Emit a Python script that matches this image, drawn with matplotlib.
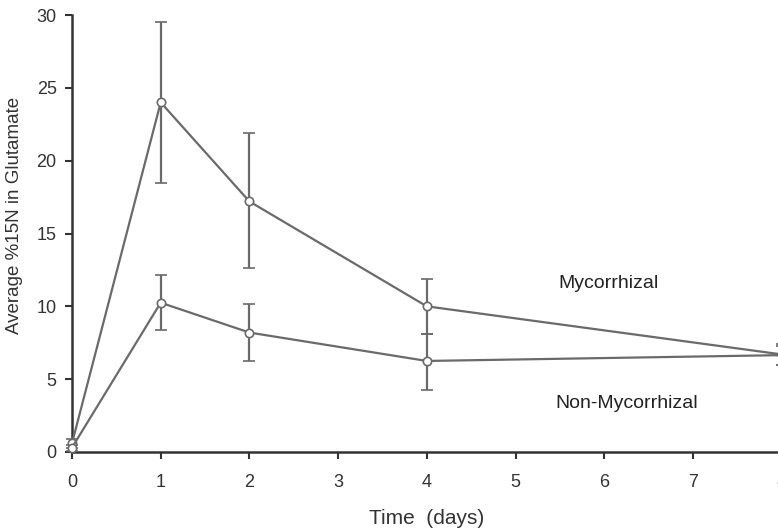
import numpy as np
import matplotlib
matplotlib.use('Agg')
import matplotlib.pyplot as plt

plt.rcParams['font.family'] = ['Liberation Sans', 'DejaVu Sans']

days = [0, 1, 2, 4, 8]
myc = [0.6, 24.0, 17.2, 10.0, 6.7]
myc_lo = [0.3, 18.5, 12.6, 8.1, 6.0]
myc_hi = [0.9, 29.5, 21.9, 11.9, 7.4]
nonmyc = [0.3, 10.25, 8.2, 6.25, 6.65]
nonmyc_lo = [0.1, 8.4, 6.25, 4.25, 6.0]
nonmyc_hi = [0.5, 12.15, 10.15, 8.1, 7.3]

W, H = 778., 532.
fig = plt.figure(figsize=(7.78, 5.32), dpi=100)
ax = fig.add_axes([72/W, 80/H, (8.1*88.7)/W, 437/H])

gray = '#6a6a6a'
for y, lo, hi in [(myc, myc_lo, myc_hi), (nonmyc, nonmyc_lo, nonmyc_hi)]:
    y = np.asarray(y)
    yerr = [y - np.asarray(lo), np.asarray(hi) - y]
    ax.errorbar(days, y, yerr=yerr, color=gray, lw=1.6, elinewidth=1.6,
                capsize=4, capthick=1.4, marker='o', ms=6,
                mfc='white', mec=gray, mew=1.2, clip_on=False, zorder=3)

ax.text(6.05, 11.6, 'Mycorrhizal', ha='center', va='center', fontsize=14, color='#222222')
ax.text(6.25, 3.3, 'Non-Mycorrhizal', ha='center', va='center', fontsize=14, color='#222222')

ax.set_xlim(0, 8.1)
ax.set_ylim(0, 30)
ax.set_xticks(range(0, 9))
ax.set_yticks(range(0, 31, 5))
ax.spines['top'].set_visible(False)
ax.spines['right'].set_visible(False)
for s in ['left', 'bottom']:
    ax.spines[s].set_color('#333333')
    ax.spines[s].set_linewidth(1.8)
ax.tick_params(direction='out', length=5, width=1.5, colors='#333333',
               labelsize=13, labelcolor='#333333')
ax.tick_params(axis='x', pad=11)
ax.tick_params(axis='y', pad=6)

# axis titles placed at the pixel centres
fig.text(427/W, 1 - 518/H, 'Time  (days)', ha='center', va='center',
         fontsize=15, color='#333333')
fig.text(15/W, 1 - 215/H, 'Average %15N in Glutamate', ha='center', va='center',
         rotation=90, fontsize=13.5, color='#333333')

plt.savefig('out.png', dpi=100)
